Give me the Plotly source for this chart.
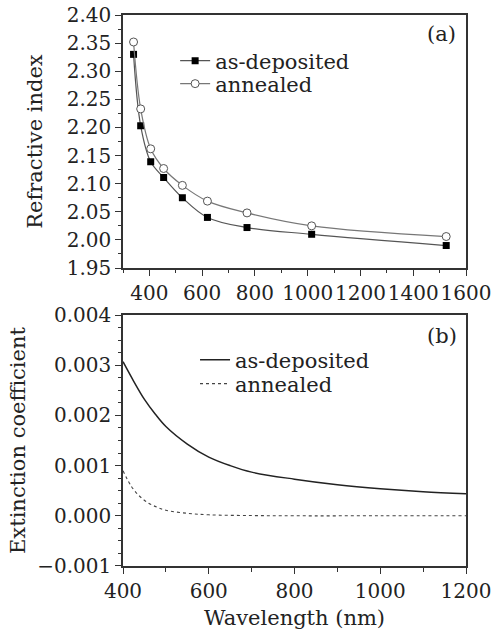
import plotly.graph_objects as go

# Panel (a): refractive index
wl_a = [340, 367, 405, 454, 525, 620, 770, 1015, 1525]
n_asdep = [2.330, 2.203, 2.139, 2.111, 2.075, 2.040, 2.022, 2.010, 1.990]
n_anneal = [2.352, 2.233, 2.162, 2.127, 2.097, 2.069, 2.048, 2.025, 2.006]

# Panel (b): extinction coefficient
wl_b = [400, 425, 450, 475, 500, 550, 600, 650, 700, 800, 900, 1000, 1100, 1200]
k_asdep = [0.00307, 0.00268, 0.00232, 0.00203, 0.00178, 0.00143, 0.00117,
           0.00100, 0.00087, 0.00073, 0.00062, 0.00054, 0.00048, 0.00044]
wl_b2 = [400, 420, 440, 460, 480, 500, 550, 600, 700, 800, 1000, 1200]
k_anneal = [0.00090, 0.00058, 0.00038, 0.00025, 0.00017, 0.00011, 0.00005,
            0.00002, 0.000005, 0.0, 0.0, 0.0]

FONT = "DejaVu Serif"
AX = "#333333"
TXT = "#222222"

fig = go.Figure()
fig.add_trace(go.Scatter(x=wl_a, y=n_asdep, mode="lines+markers", name="as-deposited",
                         line=dict(color="#555555", width=1.2, shape="spline"),
                         marker=dict(symbol="square", size=7, color="black"),
                         xaxis="x", yaxis="y", legend="legend"))
fig.add_trace(go.Scatter(x=wl_a, y=n_anneal, mode="lines+markers", name="annealed",
                         line=dict(color="#777777", width=1.2, shape="spline"),
                         marker=dict(symbol="circle", size=8, color="white",
                                     line=dict(color="#555555", width=1)),
                         xaxis="x", yaxis="y", legend="legend2"))
fig.add_trace(go.Scatter(x=wl_b, y=k_asdep, mode="lines", name="as-deposited",
                         line=dict(color="#222222", width=1.5, shape="spline"),
                         xaxis="x2", yaxis="y2", legend="legend3"))
fig.add_trace(go.Scatter(x=wl_b2, y=k_anneal, mode="lines", name="annealed",
                         line=dict(color="#444444", width=1.1, dash="dot", shape="spline"),
                         xaxis="x2", yaxis="y2", legend="legend4"))

common = dict(showline=True, linecolor=AX, linewidth=1.5, mirror=True,
              ticks="outside", ticklen=6, tickcolor=AX, tickwidth=1.2,
              showgrid=False, zeroline=False, automargin=False, tickangle=0,
              ticklabeloverflow="allow",
              tickfont=dict(family=FONT, size=20, color=TXT))


def leg(x, y):
    return dict(x=x, y=y, xanchor="left", yanchor="middle", xref="paper", yref="paper",
                bgcolor="rgba(0,0,0,0)", font=dict(family=FONT, size=21, color=TXT),
                itemwidth=30)


fig.update_layout(
    width=491, height=634,
    margin=dict(l=123, r=25, t=15, b=68),
    plot_bgcolor="white", paper_bgcolor="white",
    font=dict(family=FONT, color=TXT),
    showlegend=True,
    xaxis=dict(domain=[0, 1], anchor="y", range=[300, 1600], tick0=400, dtick=200,
               minor=dict(dtick=100, ticks="outside", ticklen=3, tickcolor=AX),
               **common),
    yaxis=dict(domain=[0.5408, 1], anchor="x", range=[1.95, 2.40], dtick=0.05,
               tickformat=".2f",
               minor=dict(dtick=0.025, ticks="outside", ticklen=3, tickcolor=AX),
               title=dict(text="Refractive index", font=dict(family=FONT, size=21), standoff=18),
               **common),
    xaxis2=dict(domain=[0, 1], anchor="y2", range=[400, 1200], dtick=200,
                minor=dict(dtick=100, ticks="outside", ticklen=4, tickcolor=AX),
                title=dict(text="Wavelength (nm)", font=dict(family=FONT, size=21), standoff=9),
                **common),
    yaxis2=dict(domain=[0, 0.4555], anchor="x2", range=[-0.001, 0.004], dtick=0.001,
                tickformat=".3f",
                minor=dict(dtick=0.00025, ticks="outside", ticklen=3, tickcolor=AX),
                title=dict(text="Extinction coefficient", font=dict(family=FONT, size=21), standoff=6),
                **common),
    legend=leg(0.152, 0.9165),
    legend2=leg(0.152, 0.8748),
    legend3=leg(0.21, 0.3739),
    legend4=leg(0.21, 0.3303),
    annotations=[
        dict(text="(a)", x=0.93, y=0.965, xref="paper", yref="paper", showarrow=False,
             font=dict(family=FONT, size=21, color=TXT), xanchor="center", yanchor="middle"),
        dict(text="(b)", x=0.93, y=0.418, xref="paper", yref="paper", showarrow=False,
             font=dict(family=FONT, size=21, color=TXT), xanchor="center", yanchor="middle"),
    ],
)

# remove the default page margin so the 491x634 figure fills the window exactly
fig.write_html("out.html", config={"displayModeBar": False},
               post_script="document.body.style.margin='0';document.body.style.overflow='hidden';")
